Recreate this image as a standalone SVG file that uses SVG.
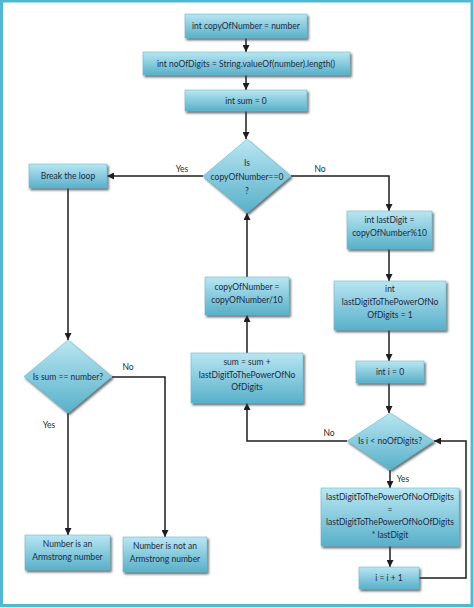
<svg xmlns="http://www.w3.org/2000/svg" width="474" height="608" viewBox="0 0 474 608">
<style>
.n{fill:url(#g);stroke:#6fb9cc;stroke-width:0.6;filter:url(#sh)}
.t{font-family:Lato,"Liberation Sans",sans-serif;font-size:8.5px;fill:#1c2a44;text-anchor:middle}
.l{font-family:Lato,"Liberation Sans",sans-serif;font-size:8.5px;fill:#2a2a2a;text-anchor:middle}
.c{fill:none;stroke:#1e1e1e;stroke-width:1.5;marker-end:url(#a)}
.c0{fill:none;stroke:#1e1e1e;stroke-width:1.5}
</style>
<defs>
<linearGradient id="g" x1="0" y1="0" x2="0" y2="1">
<stop offset="0" stop-color="#b9e6f2"/>
<stop offset="1" stop-color="#58b0c9"/>
</linearGradient>
<filter id="sh" x="-20%" y="-20%" width="140%" height="150%">
<feDropShadow dx="1.5" dy="2" stdDeviation="0.8" flood-color="#3a4a50" flood-opacity="0.8"/>
</filter>
<marker id="a" viewBox="0 0 8 8" refX="8" refY="4" markerWidth="7" markerHeight="7" markerUnits="userSpaceOnUse" orient="auto">
<path d="M0,0 L8,4 L0,8 z" fill="#1e1e1e"/>
</marker>
</defs>
<rect x="1.5" y="1" width="470.5" height="604.5" fill="#fff" stroke="#4fb9d2" stroke-width="3"/>
<g id="connectors">
<path class="c" d="M246,38 V52"/>
<path class="c" d="M246,75 V90"/>
<path class="c" d="M246,111 V139"/>
<path class="c" d="M203,176 H107"/>
<path class="c" d="M291,176 H389 V211"/>
<path class="c" d="M389,249 V281"/>
<path class="c" d="M389,330 V361"/>
<path class="c" d="M389,383 V413"/>
<path class="c" d="M390,470 V488"/>
<path class="c" d="M390,546 V567"/>
<path class="c" d="M419,578 H466 V441 H434"/>
<path class="c" d="M347,441 H247 V403"/>
<path class="c" d="M247,353 V315"/>
<path class="c" d="M247,277 V213"/>
<path class="c" d="M68,188 V340"/>
<path class="c" d="M68,413 V535"/>
<path class="c" d="M112,377 H165 V537"/>
<text class="l" x="182" y="172">Yes</text>
<text class="l" x="320" y="172">No</text>
<text class="l" x="128" y="370">No</text>
<text class="l" x="49" y="428">Yes</text>
<text class="l" x="329" y="436">No</text>
<text class="l" x="403" y="482">Yes</text>
</g>
<g id="n1"><rect class="n" x="185" y="14" width="122" height="24"/><text class="t" x="246" y="29">int copyOfNumber = number</text></g>
<g id="n2"><rect class="n" x="143" y="52" width="207" height="23"/><text class="t" x="246" y="66.5">int noOfDigits = String.valueOf(number).length()</text></g>
<g id="n3"><rect class="n" x="185" y="90" width="122" height="21"/><text class="t" x="246" y="103.5">int sum = 0</text></g>
<g id="d1"><polygon class="n" points="247,139 291,176 247,213 203,176"/><text class="t" x="247" y="166">Is</text><text class="t" x="247" y="180">copyOfNumber==0</text><text class="t" x="247" y="194">?</text></g>
<g id="n4"><rect class="n" x="29" y="164" width="78" height="24"/><text class="t" x="68" y="179">Break the loop</text></g>
<g id="n5"><rect class="n" x="347" y="211" width="85" height="38"/><text class="t" x="389.5" y="223">int lastDigit =</text><text class="t" x="389.5" y="236">copyOfNumber%10</text></g>
<g id="n6"><rect class="n" x="334" y="281" width="112" height="49"/><text class="t" x="390" y="292">int</text><text class="t" x="390" y="305">lastDigitToThePowerOfNo</text><text class="t" x="390" y="318">OfDigits = 1</text></g>
<g id="n7"><rect class="n" x="356" y="361" width="68" height="22"/><text class="t" x="390" y="375">int i = 0</text></g>
<g id="n8"><rect class="n" x="205" y="277" width="84" height="38"/><text class="t" x="247" y="290">copyOfNumber =</text><text class="t" x="247" y="303">copyOfNumber/10</text></g>
<g id="n9"><rect class="n" x="191" y="353" width="112" height="50"/><text class="t" x="247" y="365">sum = sum +</text><text class="t" x="247" y="377.5">lastDigitToThePowerOfNo</text><text class="t" x="247" y="390">OfDigits</text></g>
<g id="d2"><polygon class="n" points="68,340 112,376.5 68,413 24,376.5"/><text class="t" x="68" y="379.5">Is sum == number?</text></g>
<g id="d3"><polygon class="n" points="390,413 434,441 390,470 347,441"/><text class="t" x="390" y="444">Is i &lt; noOfDigits?</text></g>
<g id="n10"><rect class="n" x="321" y="488" width="138" height="58"/><text class="t" x="390" y="500">lastDigitToThePowerOfNoOfDigits</text><text class="t" x="390" y="512.5">=</text><text class="t" x="390" y="525">lastDigitToThePowerOfNoOfDigits</text><text class="t" x="390" y="537.5">* lastDigit</text></g>
<g id="n11"><rect class="n" x="359" y="567" width="60" height="22"/><text class="t" x="389" y="581">i = i + 1</text></g>
<g id="n12"><rect class="n" x="25" y="535" width="85" height="35"/><text class="t" x="67.5" y="547">Number is an</text><text class="t" x="67.5" y="560">Armstrong number</text></g>
<g id="n13"><rect class="n" x="123" y="537" width="84" height="35"/><text class="t" x="165" y="549">Number is not an</text><text class="t" x="165" y="562">Armstrong number</text></g>
</svg>
